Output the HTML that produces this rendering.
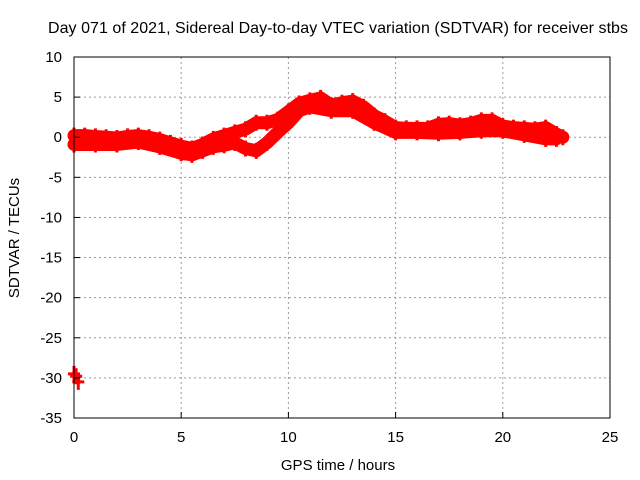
<!DOCTYPE html>
<html><head><meta charset="utf-8"><style>
body{margin:0;background:#fff}
svg{display:block;font-family:"Liberation Sans",sans-serif}
</style></head><body>
<svg id="chart" width="640" height="480">
<rect width="640" height="480" fill="#fff"/>
<text x="338" y="33" font-size="16" text-anchor="middle" textLength="580">Day 071 of 2021, Sidereal Day-to-day VTEC variation (SDTVAR) for receiver stbs</text>
<text x="338" y="470" font-size="15" text-anchor="middle">GPS time / hours</text>
<text transform="translate(19,238) rotate(-90)" font-size="15" text-anchor="middle">SDTVAR / TECUs</text>
<g id="grid"></g><g id="data"></g><g id="axes"></g>
</svg>
<script>
const xTicks=[0,5,10,15,20,25];
const yTicks=[10,5,0,-5,-10,-15,-20,-25,-30,-35];
const upperT=[0,0.5,1,1.5,2,2.5,3,3.5,4,4.5,5,5.5,6,6.5,7,7.5,8,8.5,9,9.5,10,10.5,11,11.5,12,12.5,13,13.5,14,14.5,15,15.5,16,16.5,17,17.5,18,18.5,19,19.5,20,20.5,21,21.5,22,22.5,22.8];
const upperV=[0.2,0.2,0.1,0,-0.1,0.1,0.2,0,-0.3,-0.7,-1.1,-1.4,-0.9,-0.2,0.2,0.6,1,1.8,1.8,2.2,3.2,4.2,4.6,4.9,4,4.3,4.5,3.8,2.7,2,1.2,1.1,1.1,1.1,1.6,1.7,1.5,1.7,2.1,2.1,1.4,1.2,1.1,1,1.2,0.4,0];
const lowerT=[0,1,2,3,4,5,5.5,6,6.5,7,7.5,8,8.5,9,9.5,10,10.5,11,12,13,14,15,16,17,18,19,20,21,22,22.5];
const lowerV=[-0.9,-0.9,-0.9,-0.6,-1.2,-2,-2.2,-1.7,-1.2,-1,-0.7,-1.4,-1.7,-0.7,0.6,1.8,3.3,3.8,3.3,3.3,1.8,0.6,0.6,0.5,0.6,0.8,0.8,0.3,-0.2,-0.2];
const outT=[0,0.1,0.2];
const outV=[-29.5,-29.8,-30.5];
const X0=74,X1=610,Y0=418,Y1=57;
const sx=v=>X0+(v-0)/(25-0)*(X1-X0);
const sy=v=>Y0-(v+35)/(45)*(Y0-Y1);
const NS='http://www.w3.org/2000/svg';
const mk=(t,a,p)=>{const e=document.createElementNS(NS,t);for(const k in a)e.setAttribute(k,a[k]);p.appendChild(e);return e;};
const grid=document.getElementById('grid'),axes=document.getElementById('axes'),data=document.getElementById('data');
xTicks.forEach(t=>{
 const x=sx(t);
 if(t>0&&t<25){const g=mk('line',{x1:x,x2:x,y1:Y1,y2:Y0,stroke:'#999','stroke-dasharray':'2,3'},grid);
 
 }
 const tk=mk('line',{x1:x,x2:x,y1:Y0,y2:Y0-6,stroke:'#000'},axes);
 
 
 const tx=mk('text',{x:x,y:Y0+24,'font-size':15,'text-anchor':'middle'},axes);tx.textContent=t;
 
 
});
yTicks.forEach(t=>{
 const y=sy(t);
 if(t<10&&t>-35){const g=mk('line',{x1:X0,x2:X1,y1:y,y2:y,stroke:'#999','stroke-dasharray':'2,3'},grid);
 
 }
 const tk=mk('line',{x1:X0,x2:X0+6,y1:y,y2:y,stroke:'#000'},axes);
 
 
 const tx=mk('text',{x:X0-12,y:y+5,'font-size':15,'text-anchor':'end'},axes);tx.textContent=t;
 
 
});
const frame=mk('rect',{x:X0,y:Y1,width:X1-X0,height:Y0-Y1,fill:'none',stroke:'#000'},axes);


function series(T,V,w,name){
 const pts=T.map((t,i)=>sx(t)+','+sy(V[i])).join(' ');
 const pl=mk('polyline',{points:pts,fill:'none',stroke:'#f00','stroke-width':w,'stroke-linejoin':'round','stroke-linecap':'round'},data);
 
 
 T.forEach((t,i)=>{const x=sx(t),y=sy(V[i]);
  const p=mk('path',{d:`M${x-6},${y}h12M${x},${y-8}v16`,stroke:'#f00','stroke-width':3},data);
  
  });
}
series(upperT,upperV,13,'upper-track');
series(lowerT,lowerV,13,'lower-track');
series(outT,outV,5,'outlier-track');
</script>
</body></html>
